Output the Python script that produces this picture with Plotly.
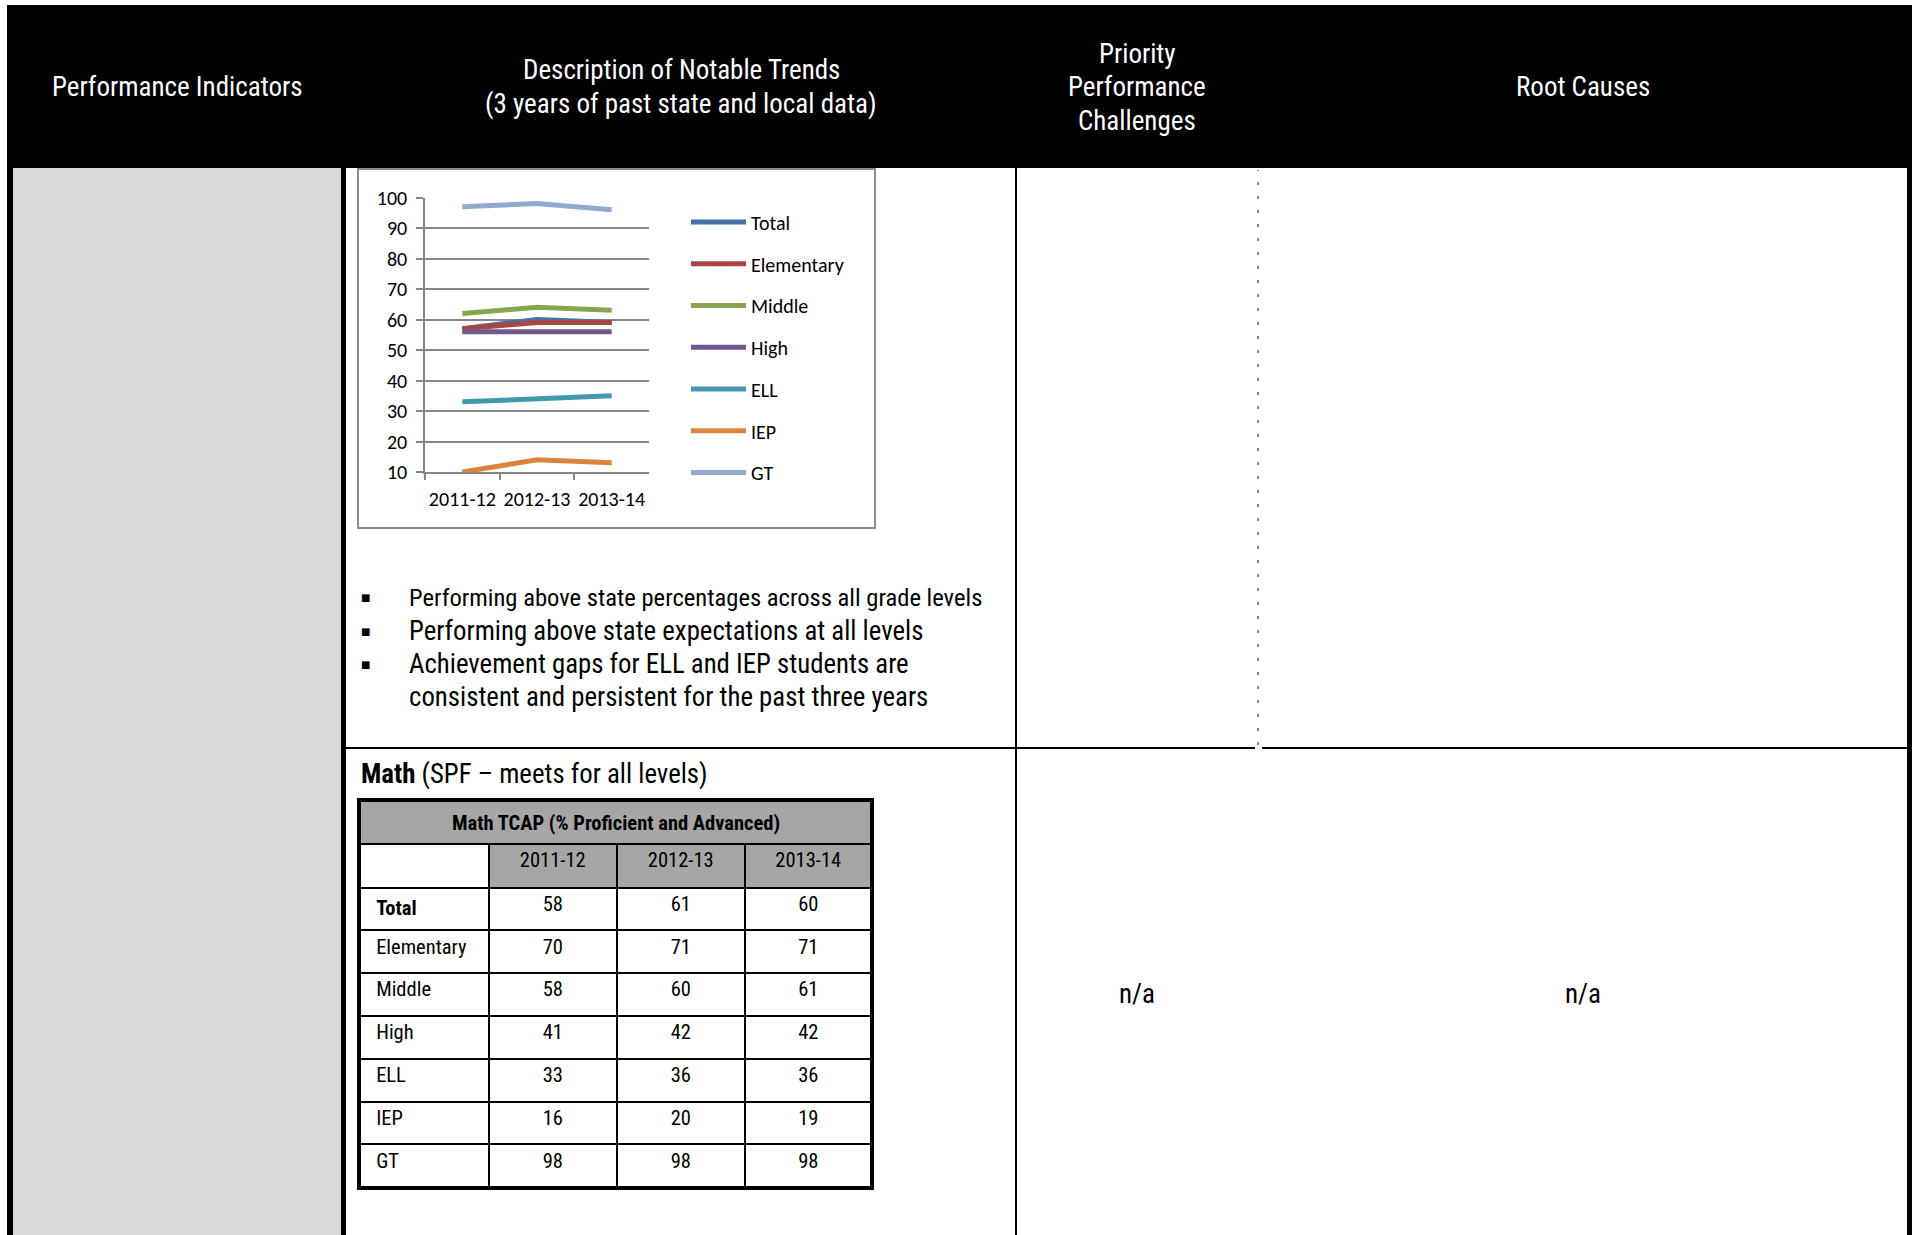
import plotly.graph_objects as go

W, H = 1917, 1235


def px(x):
    return x / W


def py(y):
    return 1 - y / H


# ---------------- data ----------------
years = ["2011-12", "2012-13", "2013-14"]
series_names = ["Total", "Elementary", "Middle", "High", "ELL", "IEP", "GT"]
total = [57, 60, 59]
elementary = [57, 59, 59]
middle = [62, 64, 63]
high = [56, 56, 56]
ell = [33, 34, 35]
iep = [10, 14, 13]
gt = [97, 98, 96]
series_values = [total, elementary, middle, high, ell, iep, gt]
series_colors = ["#4572A7", "#AA4643", "#89A54E", "#71588F", "#4198AF", "#DB843D", "#93A9CF"]
y_ticks = [10, 20, 30, 40, 50, 60, 70, 80, 90, 100]

math_title = "Math TCAP (% Proficient and Advanced)"
math_groups = ["Total", "Elementary", "Middle", "High", "ELL", "IEP", "GT"]
math_2011_12 = [58, 70, 58, 41, 33, 16, 98]
math_2012_13 = [61, 71, 60, 42, 36, 20, 98]
math_2013_14 = [60, 71, 61, 42, 36, 19, 98]

header_cols = [
    ["Performance Indicators"],
    ["Description of Notable Trends", "(3 years of past state and local data)"],
    ["Priority", "Performance", "Challenges"],
    ["Root Causes"],
]
bullets = [
    "Performing above state percentages across all grade levels",
    "Performing above state expectations at all levels",
    "Achievement gaps for ELL and IEP students are",
    "consistent and persistent for the past three years",
]
na_text = "n/a"

NARROW = "Roboto Condensed, Liberation Sans Narrow, sans-serif"
CAL = "Carlito, Calibri, Lato, sans-serif"

fig = go.Figure()

# ---------------- line chart ----------------
for name, vals, col in zip(series_names, series_values, series_colors):
    fig.add_trace(go.Scatter(
        x=years, y=vals, name=name, mode="lines",
        line=dict(color=col, width=5),
        legendgroup=name, showlegend=True,
        xaxis="x", yaxis="y",
    ))

# ---------------- math table ----------------
cell_labels = ["\u2002<b>Total</b>" if g == "Total" else "\u2002" + g for g in math_groups]
fig.add_trace(go.Table(
    domain=dict(x=[px(359), px(872)], y=[py(1192), py(844)]),
    columnwidth=[129, 128, 127, 127],
    header=dict(
        values=[""] + years,
        fill_color=["white", "#A6A6A6", "#A6A6A6", "#A6A6A6"],
        line=dict(color="black", width=2),
        align="center",
        font=dict(family=NARROW, size=20.5, color="black"),
        height=43.5,
    ),
    cells=dict(
        values=[cell_labels, math_2011_12, math_2012_13, math_2013_14],
        fill_color="white",
        line=dict(color="black", width=2),
        align=["left", "center", "center", "center"],
        font=dict(family=NARROW, size=20.5, color="black"),
        height=42.8,
    ),
))

shapes = []
# header band
shapes.append(dict(type="rect", xref="paper", yref="paper", x0=px(7), x1=px(1912), y0=py(168), y1=py(5),
                   fillcolor="black", line=dict(width=0), layer="below"))
# left border
shapes.append(dict(type="rect", xref="paper", yref="paper", x0=px(7), x1=px(13), y0=py(1235), y1=py(168),
                   fillcolor="black", line=dict(width=0), layer="below"))
# gray column
shapes.append(dict(type="rect", xref="paper", yref="paper", x0=px(13), x1=px(341), y0=py(1235), y1=py(168),
                   fillcolor="#D9D9D9", line=dict(width=0), layer="below"))
# thick separator
shapes.append(dict(type="rect", xref="paper", yref="paper", x0=px(341), x1=px(346), y0=py(1235), y1=py(168),
                   fillcolor="black", line=dict(width=0), layer="below"))
# right border
shapes.append(dict(type="rect", xref="paper", yref="paper", x0=px(1907), x1=px(1912), y0=py(1235), y1=py(168),
                   fillcolor="black", line=dict(width=0), layer="below"))
# thin vertical
shapes.append(dict(type="line", xref="paper", yref="paper", x0=px(1016), x1=px(1016), y0=py(1235), y1=py(168),
                   line=dict(color="black", width=2), layer="below"))
# horizontal row separator
shapes.append(dict(type="line", xref="paper", yref="paper", x0=px(346), x1=px(1255), y0=py(748), y1=py(748),
                   line=dict(color="black", width=2), layer="below"))
shapes.append(dict(type="line", xref="paper", yref="paper", x0=px(1262), x1=px(1907), y0=py(748), y1=py(748),
                   line=dict(color="black", width=2), layer="below"))
# dotted vertical
shapes.append(dict(type="line", xref="paper", yref="paper", x0=px(1258), x1=px(1258), y0=py(745), y1=py(170),
                   line=dict(color="#8A8A8A", width=2, dash="3px,11px"), layer="below"))
# chart frame
shapes.append(dict(type="rect", xref="paper", yref="paper", x0=px(358), x1=px(875), y0=py(528), y1=py(169),
                   line=dict(color="#8C8C8C", width=2), fillcolor="white", layer="below"))
# table title band
shapes.append(dict(type="rect", xref="paper", yref="paper", x0=px(359), x1=px(872), y0=py(844), y1=py(800),
                   fillcolor="#A6A6A6", line=dict(color="black", width=2), layer="below"))
# table outer border
shapes.append(dict(type="rect", xref="paper", yref="paper", x0=px(359), x1=px(872), y0=py(1188), y1=py(800),
                   line=dict(color="black", width=4), layer="above"))

annotations = []
# header text
header_centers = [177, 681, 1137, 1583]
header_line_y = {1: [87], 2: [70, 104], 3: [54, 87, 121]}
for cx, lines in zip(header_centers, header_cols):
    for ln, yy in zip(lines, header_line_y[len(lines)]):
        annotations.append(dict(x=px(cx), y=py(yy), xref="paper", yref="paper", text=ln, showarrow=False,
                                xanchor="center", yanchor="middle",
                                font=dict(family=NARROW, size=27, color="white")))

# bullets
bullet_y = [598, 631, 664, 697]
bullet_sizes = [24.6, 26.8, 26.8, 26.8]
for i, (txt, yy, fs) in enumerate(zip(bullets, bullet_y, bullet_sizes)):
    annotations.append(dict(x=px(407), y=py(yy), xref="paper", yref="paper", text=txt, showarrow=False,
                            xanchor="left", yanchor="middle",
                            font=dict(family=NARROW, size=fs, color="black")))
    if i < 3:
        annotations.append(dict(x=px(365), y=py(yy), xref="paper", yref="paper", text="■", showarrow=False,
                                xanchor="center", yanchor="middle",
                                font=dict(family="DejaVu Sans", size=10, color="black")))

# math heading
annotations.append(dict(x=px(359), y=py(774), xref="paper", yref="paper",
                        text="<b>Math</b> (SPF – meets for all levels)", showarrow=False,
                        xanchor="left", yanchor="middle",
                        font=dict(family=NARROW, size=26.8, color="black")))
# table title
annotations.append(dict(x=px(615.5), y=py(823), xref="paper", yref="paper",
                        text="<b>" + math_title + "</b>", showarrow=False,
                        xanchor="center", yanchor="middle",
                        font=dict(family=NARROW, size=20.5, color="black")))
# n/a
for cx in [1137, 1583]:
    annotations.append(dict(x=px(cx), y=py(994), xref="paper", yref="paper", text=na_text, showarrow=False,
                            xanchor="center", yanchor="middle",
                            font=dict(family=NARROW, size=27, color="black")))

fig.update_layout(
    width=W, height=H, autosize=False,
    margin=dict(l=0, r=0, t=0, b=0, pad=0, autoexpand=False),
    paper_bgcolor="white", plot_bgcolor="rgba(0,0,0,0)",
    shapes=shapes, annotations=annotations,
    xaxis=dict(domain=[px(425), px(649)], type="category", range=[-0.5, 2.5],
               tickson="boundaries", ticks="outside", ticklen=6, tickcolor="#868686", tickwidth=1.5,
               showline=True, linecolor="#868686", linewidth=1.5, showgrid=False, zeroline=False,
               tickangle=0, ticklabelstandoff=8, automargin=False,
               tickfont=dict(family=CAL, size=20, color="black"), fixedrange=True),
    yaxis=dict(domain=[py(472), py(197.5)], range=[10, 100], tickvals=y_ticks,
               ticks="outside", ticklen=7, tickcolor="#868686", tickwidth=1.5,
               showline=True, linecolor="#868686", linewidth=1.5,
               showgrid=True, gridcolor="#868686", gridwidth=1.5, zeroline=False,
               ticklabelstandoff=5, automargin=False,
               tickfont=dict(family=CAL, size=20, color="black"), fixedrange=True),
    showlegend=True,
    legend=dict(x=px(686), y=py(202.5), xanchor="left", yanchor="top",
                bgcolor="rgba(0,0,0,0)", borderwidth=0,
                font=dict(family=CAL, size=20, color="black"),
                tracegroupgap=12.75, itemwidth=55, traceorder="grouped"),
)

fig.write_html("out.html")
